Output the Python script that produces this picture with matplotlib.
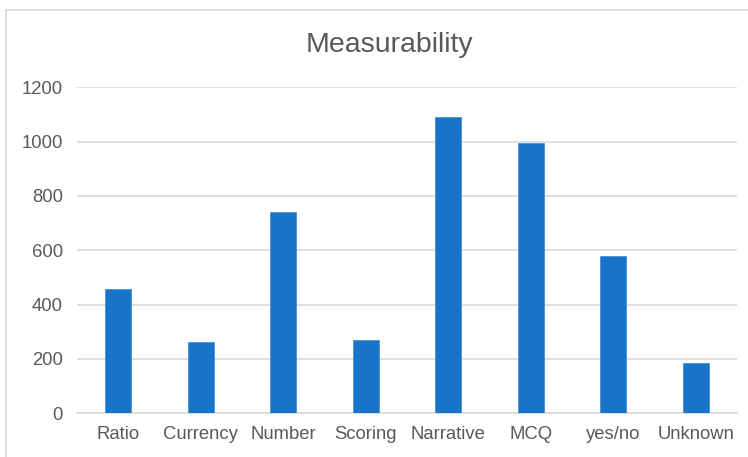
import matplotlib.pyplot as plt
from matplotlib.lines import Line2D

categories = ['Ratio', 'Currency', 'Number', 'Scoring', 'Narrative', 'MCQ', 'yes/no', 'Unknown']
counts = [456, 261, 740, 270, 1092, 994, 579, 185]

plt.rcParams['font.family'] = ['Liberation Sans', 'DejaVu Sans']

text_color = '#595959'
grid_color = '#D9D9D9'
bar_color = '#1874C9'

fig = plt.figure(figsize=(7.48, 4.57), dpi=100)
ax = fig.add_axes([77/748, 1-413.3/457, 660/748, 326/457])

x = range(len(categories))
ax.bar(x, counts, width=0.315, color=bar_color, edgecolor='#4A8FD6', linewidth=0.6, zorder=3)

ax.set_xlim(-0.5, len(categories)-0.5)
ax.set_ylim(0, 1200)
ax.set_yticks(range(0, 1201, 200))
ax.set_xticks(list(x))
ax.set_xticklabels(categories)
ax.grid(axis='y', color=grid_color, linewidth=1.2, zorder=0)
ax.tick_params(axis='both', length=0, labelsize=13.3, labelcolor=text_color)
ax.tick_params(axis='y', pad=10)
ax.tick_params(axis='x', pad=9)
for side in ['top', 'right', 'left']:
    ax.spines[side].set_visible(False)
ax.spines['bottom'].set_color(grid_color)
ax.spines['bottom'].set_linewidth(1.2)

fig.text(389/748, 1-45/457, 'Measurability', ha='center', va='center',
         fontsize=20.5, color=text_color)

# chart area border (cut off on right and bottom)
fig.add_artist(Line2D([6/748, 6/748], [0, 1-10/457], color=grid_color, linewidth=1.2))
fig.add_artist(Line2D([6/748, 1], [1-10/457, 1-10/457], color=grid_color, linewidth=1.2))

fig.savefig('out.png', dpi=100)
